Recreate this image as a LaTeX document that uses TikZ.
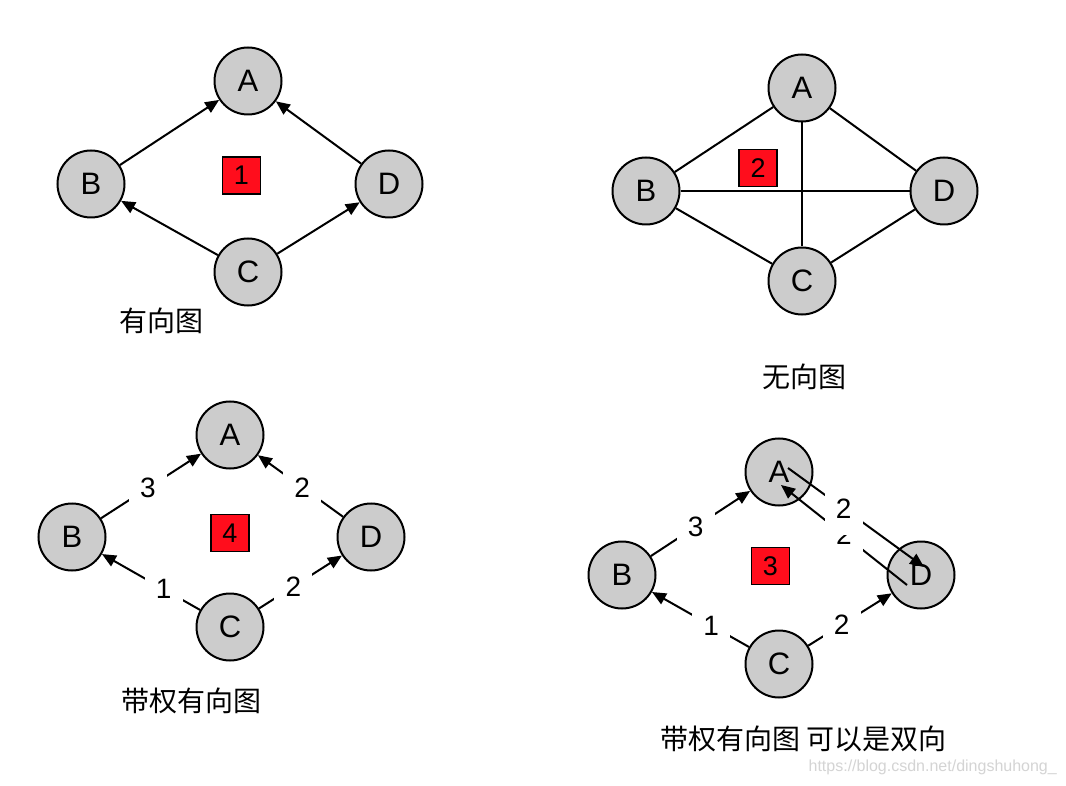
\documentclass[tikz,border=0pt]{standalone}
\usepackage{fontspec}
\setmainfont{Liberation Sans}
\newfontfamily\cjk{Noto Sans CJK SC}
\usetikzlibrary{arrows.meta}
\definecolor{nodegray}{RGB}{204,204,204}
\definecolor{boxred}{RGB}{255,13,28}
\definecolor{wmgray}{RGB}{212,212,212}
\tikzset{
  vert/.style={circle, draw=black, line width=2pt, fill=nodegray, minimum size=67pt, inner sep=0pt, font=\fontsize{31}{31}\selectfont},
  tagbox/.style={draw=black, line width=1.5pt, fill=boxred, minimum width=38pt, minimum height=37pt, inner sep=0pt, font=\fontsize{27}{27}\selectfont},
  gcap/.style={font=\cjk\fontsize{28}{28}\selectfont, inner sep=0pt},
  conn/.style={line width=2pt, draw=black},
  darc/.style={conn, -{Triangle[length=14pt,width=12pt]}},
  wt/.style={fill=white, inner sep=0pt, minimum width=38pt, minimum height=36pt, font=\fontsize{28}{28}\selectfont},
}
\begin{document}
\begin{tikzpicture}[x=1pt,y=-1pt]
\useasboundingbox[fill=white] (0,0) rectangle (1066,786);

% ---------- graph 1: directed ----------
\node[vert] (A1) at (248,81) {A};
\node[vert] (B1) at (91,184) {B};
\node[vert] (D1) at (389,184) {D};
\node[vert] (C1) at (248,272) {C};
\node[tagbox] (t1) at (241.5,175.5) {1};
\draw[darc] (B1) -- (A1);
\draw[darc] (D1) -- (A1);
\draw[darc] (C1) -- (B1);
\draw[darc] (C1) -- (D1);
\node[gcap] (cap1) at (161,321) {有向图};

% ---------- graph 2: undirected ----------
\node[vert] (A2) at (802,88) {A};
\node[vert] (B2) at (646,191) {B};
\node[vert] (D2) at (944,191) {D};
\node[vert] (C2) at (802,281) {C};
\node[tagbox] (t2) at (758,168) {2};
\draw[conn] (B2) -- (A2);
\draw[conn] (A2) -- (D2);
\draw[conn] (B2) -- (D2);
\draw[conn] (A2) -- (C2);
\draw[conn] (B2) -- (C2);
\draw[conn] (C2) -- (D2);
\node[gcap] (cap2) at (804,377) {无向图};

% ---------- graph 4: weighted directed ----------
\node[vert] (A4) at (230,435) {A};
\node[vert] (B4) at (72,537) {B};
\node[vert] (D4) at (371,537) {D};
\node[vert] (C4) at (230,627) {C};
\node[tagbox] (t4) at (230,533) {4};
\draw[darc] (B4) -- node[wt,pos=0.47] {3} (A4);
\draw[darc] (D4) -- node[wt,pos=0.48] {2} (A4);
\draw[darc] (C4) -- node[wt,pos=0.37] {1} (B4);
\draw[darc] (C4) -- node[wt,pos=0.415] {2} (D4);
\node[gcap] (cap4) at (191,701) {带权有向图};

% ---------- graph 3: weighted, bidirectional ----------
\node[vert] (A3) at (779,472) {A};
\node[vert] (B3) at (622,575) {B};
\node[vert] (D3) at (921,575) {D};
\node[vert] (C3) at (779,664) {C};
\node[tagbox] (t3) at (770.5,566) {3};
\draw[darc] (B3) -- node[wt,pos=0.45] {3} (A3);
\draw[darc] (C3) -- node[wt,pos=0.39] {1} (B3);
\draw[darc] (C3) -- node[wt,pos=0.40] {2} (D3);
\coordinate (a3s) at ([shift={(9,-4)}]A3.center);
\coordinate (d3e) at ([shift={(3,-8)}]D3.center);
\coordinate (d3s) at ([shift={(-14,10)}]D3.center);
\coordinate (a3e) at ([shift={(2,13)}]A3.center);
\draw[darc] (d3s) -- node[wt,pos=0.5] {2} (a3e);
\draw[darc] (a3s) -- node[wt,pos=0.41,minimum height=53pt] {2} (d3e);
\node[gcap] (cap3) at (803.5,738.5) {带权有向图 可以是双向};

% watermark
\node[anchor=east, inner sep=0pt, text=wmgray, font=\fontsize{16}{16}\selectfont] (wm) at (1057,767) {https://blog.csdn.net/dingshuhong\_};
\end{tikzpicture}
\end{document}
